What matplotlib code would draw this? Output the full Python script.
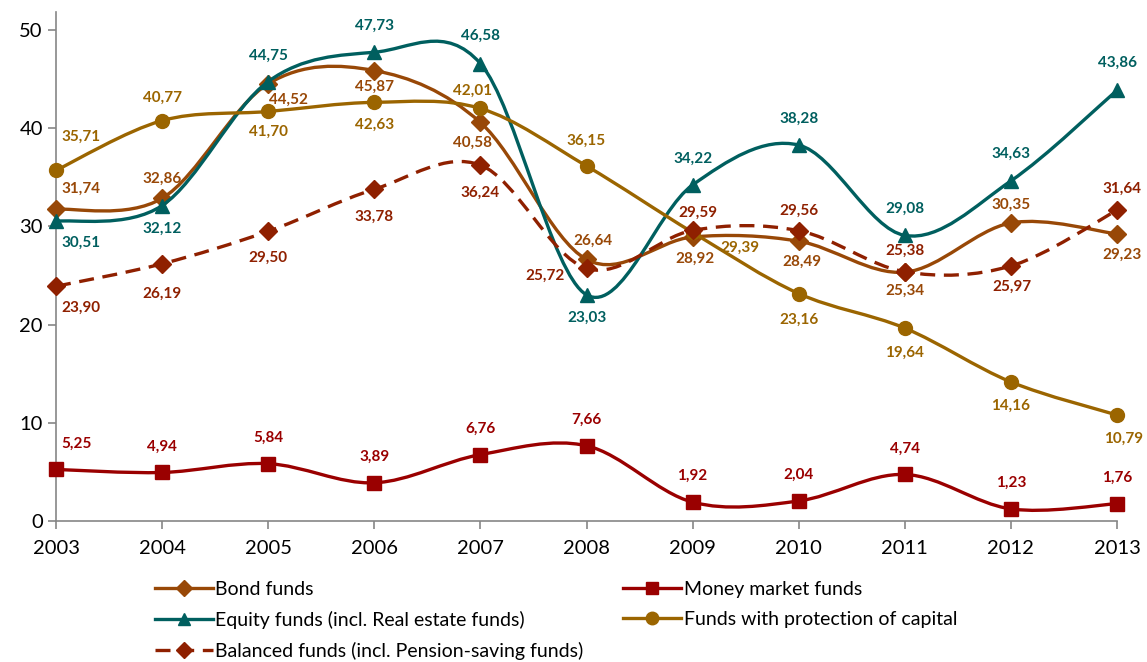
import matplotlib
matplotlib.use("Agg")
import matplotlib.pyplot as plt
from matplotlib.path import Path
from matplotlib.patches import PathPatch
from matplotlib.lines import Line2D

years = [2003, 2004, 2005, 2006, 2007, 2008, 2009, 2010, 2011, 2012, 2013]

bond = [31.74, 32.86, 44.52, 45.87, 40.58, 26.64, 28.92, 28.49, 25.34, 30.35, 29.23]
money = [5.25, 4.94, 5.84, 3.89, 6.76, 7.66, 1.92, 2.04, 4.74, 1.23, 1.76]
equity = [30.51, 32.12, 44.75, 47.73, 46.58, 23.03, 34.22, 38.28, 29.08, 34.63, 43.86]
capital = [35.71, 40.77, 41.70, 42.63, 42.01, 36.15, 29.39, 23.16, 19.64, 14.16, 10.79]
balanced = [23.90, 26.19, 29.50, 33.78, 36.24, 25.72, 29.59, 29.56, 25.38, 25.97, 31.64]

names = ["Bond funds", "Money market funds", "Equity funds (incl. Real estate funds)",
         "Funds with protection of capital", "Balanced funds (incl. Pension-saving funds)"]

# label offsets in pixels (dx, dy down)
off_bond = [(25, -20), (0, -19), (20, 16), (0, 16), (-8, 20), (6, -19), (2, 22), (3, 21), (0, 19), (0, -18), (5, 21)]
off_money = [(21, -26)] + [(0, -26)] * 10
off_equity = [(25, 21), (0, 23), (0, -26), (0, -26), (0, -28), (0, 23), (0, -26), (0, -26), (0, -27), (0, -27), (0, -27)]
off_capital = [(25, -34), (0, -23), (0, 20), (0, 22), (-8, -18), (0, -25), (47, 15), (0, 26), (0, 25), (0, 24), (7, 24)]
off_balanced = [(25, 22), (0, 30), (0, 27), (0, 28), (0, 28), (-41, 7), (5, -18), (0, -20), (0, -21), (1, 21), (5, -21)]

plt.rcParams['font.family'] = ['Lato', 'DejaVu Sans']


def smooth_path(xs, ys):
    # Excel-like smoothed line: Catmull-Rom as cubic Bezier segments
    pts = list(zip(xs, ys))
    n = len(pts)
    verts = [pts[0]]
    codes = [Path.MOVETO]
    for i in range(n - 1):
        p0 = pts[i - 1] if i > 0 else pts[i]
        p1 = pts[i]
        p2 = pts[i + 1]
        p3 = pts[i + 2] if i + 2 < n else pts[i + 1]
        c1 = (p1[0] + (p2[0] - p0[0]) / 6, p1[1] + (p2[1] - p0[1]) / 6)
        c2 = (p2[0] - (p3[0] - p1[0]) / 6, p2[1] - (p3[1] - p1[1]) / 6)
        verts += [c1, c2, p2]
        codes += [Path.CURVE4] * 3
    return Path(verts, codes)


fig = plt.figure(figsize=(11.47, 6.62), dpi=100)
ax = fig.add_axes([56 / 1147, 1 - 521 / 662, (1117 - 56) / 1147, (521 - 12) / 662])

series = [
    (bond, "#984807", "D", 9, "-", off_bond),
    (money, "#9A0000", "s", 10, "-", off_money),
    (equity, "#005F5F", "^", 10, "-", off_equity),
    (capital, "#9B6500", "o", 10, "-", off_capital),
    (balanced, "#8F2000", "D", 9, (0, (4.5, 2.6)), off_balanced),
]

handles = []
for k, (vals, col, mk, ms, ls, offs) in enumerate(series):
    z = 3 + k
    patch = PathPatch(smooth_path(years, vals), facecolor="none", edgecolor=col,
                      lw=2.4, linestyle=ls, zorder=z, capstyle="butt")
    patch.set_clip_on(False)
    ax.add_patch(patch)
    ax.plot(years, vals, linestyle="none", marker=mk, ms=ms, color=col,
            zorder=z + 0.5, clip_on=False)
    for x, v, (dx, dy) in zip(years, vals, offs):
        ax.annotate(f"{v:.2f}".replace(".", ","), (x, v), xytext=(dx, -dy),
                    textcoords="offset pixels", ha="center", va="center",
                    fontsize=11, fontweight="bold", color=col, zorder=20)
    handles.append(Line2D([], [], color=col, lw=2.4, linestyle=ls, marker=mk, ms=ms - 1))

ax.set_xlim(2003, 2013)
ax.set_ylim(0, 51.83)
ax.set_xticks(years)
ax.set_yticks([0, 10, 20, 30, 40, 50])
for s in ["top", "right"]:
    ax.spines[s].set_visible(False)
for s in ["left", "bottom"]:
    ax.spines[s].set_color("#868686")
    ax.spines[s].set_linewidth(1.2)
ax.tick_params(axis="both", colors="#868686", labelcolor="black", labelsize=14.5, length=6, width=1.2)
ax.tick_params(axis="x", pad=8)

order = [0, 2, 4, 1, 3]
fig.legend([handles[i] for i in order], [names[i] for i in order], ncol=2,
           loc="upper left", bbox_to_anchor=(155 / 1147, 1 - 581 / 662),
           frameon=False, fontsize=14, handlelength=2.98, handletextpad=0.12,
           labelspacing=0.66, columnspacing=2.05, borderpad=0, borderaxespad=0)

fig.savefig("out.png", dpi=100)
